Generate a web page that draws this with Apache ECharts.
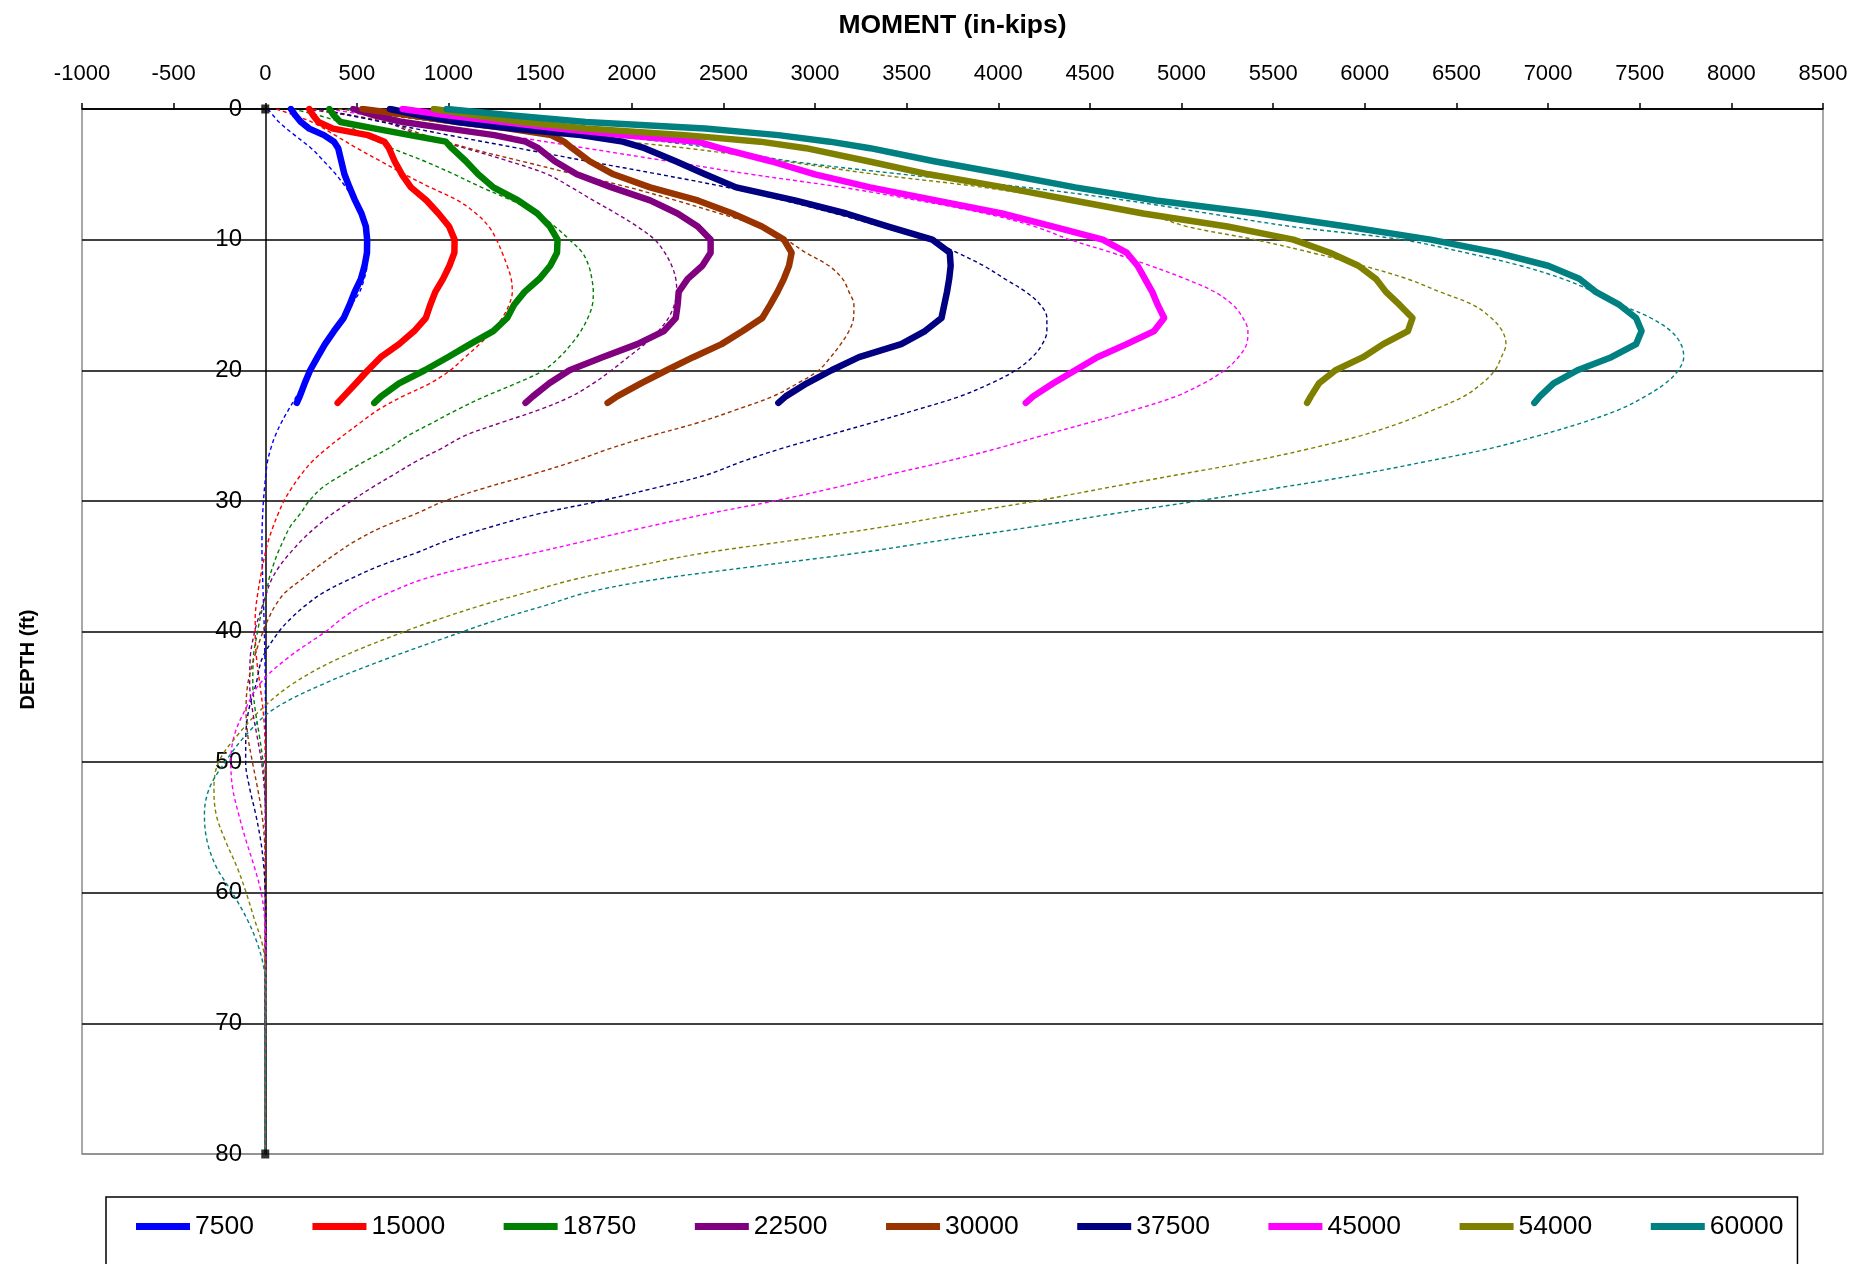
<!DOCTYPE html>
<html>
<head>
<meta charset="utf-8">
<title>Moment vs Depth</title>
<script src="https://cdn.jsdelivr.net/npm/echarts@6/dist/echarts.min.js"></script>
<style>
  html, body { margin: 0; padding: 0; background: #ffffff; }
  #chart { width: 1871px; height: 1264px; }
</style>
</head>
<body>
<div id="chart"></div>
<script>
// Lateral load cases (legend entries)
const loadCases = ['7500', '15000', '18750', '22500', '30000', '37500', '45000', '54000', '60000'];

// Depths (ft) of the measured moment profiles
const depthMeasured = [0, 0.5, 1, 1.5, 2, 2.5, 3, 4, 5, 6, 7, 8, 9, 10, 11, 12, 13, 14, 15, 16, 17, 18, 19, 20, 21, 22, 22.5];

// Measured bending moment (in-kips), one array per load case
const measured7500  = [140, 165, 195, 240, 320, 375, 398, 415, 432, 460, 490, 525, 549, 556, 555, 542, 522, 488, 460, 428, 375, 326, 285, 245, 215, 188, 172];
const measured15000 = [240, 262, 290, 370, 560, 650, 675, 706, 745, 795, 880, 945, 1003, 1033, 1032, 1005, 970, 928, 900, 876, 813, 730, 630, 560, 495, 428, 395];
const measured18750 = [350, 375, 410, 600, 790, 985, 1018, 1095, 1162, 1245, 1380, 1485, 1553, 1595, 1592, 1555, 1496, 1415, 1357, 1320, 1244, 1118, 996, 870, 730, 632, 595];
const measured22500 = [480, 600, 750, 1000, 1250, 1420, 1490, 1580, 1700, 1890, 2100, 2250, 2360, 2430, 2430, 2385, 2305, 2256, 2250, 2240, 2175, 2030, 1840, 1660, 1550, 1460, 1420];
const measured30000 = [530, 800, 1050, 1330, 1560, 1630, 1675, 1770, 1900, 2100, 2360, 2550, 2710, 2830, 2872, 2858, 2830, 2795, 2755, 2712, 2605, 2490, 2335, 2190, 2050, 1920, 1868];
const measured37500 = [680, 850, 1050, 1350, 1720, 1950, 2070, 2240, 2400, 2570, 2890, 3170, 3400, 3640, 3735, 3740, 3732, 3720, 3705, 3690, 3600, 3470, 3240, 3090, 2955, 2840, 2800];
const measured45000 = [750, 1000, 1300, 1600, 1950, 2360, 2480, 2760, 3000, 3300, 3660, 4020, 4300, 4570, 4700, 4760, 4800, 4840, 4870, 4905, 4850, 4700, 4540, 4420, 4300, 4190, 4150];
const measured54000 = [920, 1150, 1400, 1750, 2290, 2700, 2950, 3290, 3620, 4030, 4410, 4790, 5250, 5610, 5810, 5965, 6060, 6115, 6190, 6260, 6235, 6100, 5990, 5840, 5750, 5705, 5685];
const measured60000 = [990, 1350, 1750, 2400, 2800, 3080, 3300, 3650, 4040, 4420, 4860, 5420, 5900, 6360, 6720, 7000, 7170, 7260, 7390, 7480, 7510, 7480, 7345, 7160, 7030, 6955, 6925];

// Depths (ft) of the computed moment profiles
const depthComputed = [0, 1, 2, 3, 4, 5, 6, 7, 8, 9, 10, 11, 12, 13, 14, 15, 16, 17, 18, 19, 20,
  21, 22, 23, 24, 25, 26, 27, 28, 29, 30, 31, 32, 33, 34, 35, 36, 37, 38, 39, 40,
  42, 44, 46, 48, 50, 52, 54, 56, 58, 60, 62, 64, 66, 68, 70, 75, 80];

// Computed bending moment (in-kips), one array per load case
const computed7500  = [15, 75, 160, 250, 320, 385, 440, 487, 520, 543, 553, 556, 555, 540, 515, 470, 430, 385, 338, 295, 252,
  212, 170, 128, 88, 55, 30, 12, 3, -4, -10, -14, -17, -18, -18, -16, -14, -12, -9, -7, -5,
  -2, 0, 1, 1, 0, 0, 0, 0, 0, 0, 0, 0, 0, 0, 0, 0, 0];
const computed15000 = [60, 255, 380, 500, 630, 760, 900, 1050, 1150, 1220, 1262, 1293, 1320, 1342, 1348, 1330, 1293, 1240, 1170, 1090, 1010,
  900, 750, 620, 520, 425, 335, 255, 195, 145, 102, 70, 42, 18, 0, -15, -28, -40, -50, -55, -55,
  -48, -30, -12, -2, 2, 3, 2, 1, 0, 0, 0, 0, 0, 0, 0, 0, 0];
const computed18750 = [150, 410, 540, 690, 870, 1030, 1180, 1345, 1488, 1580, 1660, 1730, 1765, 1782, 1790, 1785, 1760, 1722, 1670, 1605, 1520,
  1370, 1200, 1050, 915, 780, 670, 540, 420, 310, 240, 190, 135, 100, 68, 42, 20, 7, -12, -28, -42,
  -65, -68, -55, -32, -12, -2, 2, 3, 2, 1, 0, 0, 0, 0, 0, 0, 0];
const computed22500 = [220, 650, 840, 1090, 1330, 1540, 1670, 1790, 1915, 2030, 2125, 2180, 2218, 2240, 2245, 2232, 2200, 2145, 2070, 1980, 1890,
  1790, 1670, 1500, 1290, 1090, 960, 820, 700, 580, 470, 365, 277, 200, 135, 78, 35, 8, -15, -38, -58,
  -82, -85, -70, -45, -20, -5, 2, 3, 2, 1, 0, 0, 0, 0, 0, 0, 0];
const computed30000 = [260, 660, 870, 1110, 1400, 1690, 1985, 2240, 2480, 2700, 2840, 2950, 3075, 3150, 3185, 3212, 3210, 3185, 3140, 3085, 3020,
  2905, 2770, 2575, 2365, 2110, 1880, 1680, 1450, 1200, 980, 820, 640, 500, 390, 290, 200, 110, 55, 18, -12,
  -60, -95, -105, -95, -70, -42, -18, -4, 2, 3, 2, 1, 0, 0, 0, 0, 0];
const computed37500 = [300, 640, 1000, 1380, 1760, 2150, 2520, 2830, 3110, 3360, 3620, 3775, 3920, 4035, 4150, 4230, 4265, 4265, 4240, 4185, 4095,
  3960, 3790, 3560, 3315, 3065, 2815, 2600, 2410, 2130, 1830, 1490, 1230, 1000, 820, 620, 460, 320, 220, 140, 75,
  -15, -50, -90, -106, -107, -85, -52, -25, -8, 0, 3, 3, 2, 1, 0, 0, 0];
const computed45000 = [350, 800, 1300, 1750, 2200, 2650, 3150, 3560, 3930, 4200, 4390, 4620, 4830, 5020, 5180, 5280, 5335, 5362, 5355, 5310, 5235,
  5120, 4970, 4750, 4500, 4240, 3990, 3710, 3400, 3105, 2780, 2410, 2080, 1770, 1460, 1130, 860, 680, 530, 420, 330,
  125, -30, -110, -170, -188, -178, -145, -105, -60, -22, -3, 3, 3, 2, 1, 0, 0];
const computed54000 = [400, 950, 1600, 2300, 2830, 3330, 3920, 4380, 4800, 5030, 5400, 5710, 5990, 6230, 6410, 6590, 6690, 6750, 6770, 6745, 6710,
  6640, 6540, 6380, 6200, 5980, 5700, 5370, 4980, 4590, 4210, 3780, 3370, 2890, 2390, 2020, 1690, 1430, 1180, 960, 760,
  410, 150, -25, -155, -255, -280, -268, -218, -155, -104, -60, -15, 2, 4, 2, 0, 0];
const computed60000 = [450, 1100, 1850, 2450, 2870, 3480, 4150, 4700, 5150, 5600, 6200, 6550, 6850, 7080, 7250, 7400, 7560, 7670, 7725, 7740, 7710,
  7640, 7530, 7390, 7190, 6950, 6680, 6330, 5960, 5530, 5090, 4620, 4180, 3700, 3230, 2680, 2140, 1760, 1530, 1290, 1080,
  680, 320, 40, -110, -220, -305, -332, -318, -268, -180, -100, -40, -5, 3, 2, 0, 0];

const measuredSets = [measured7500, measured15000, measured18750, measured22500, measured30000,
  measured37500, measured45000, measured54000, measured60000];
const computedSets = [computed7500, computed15000, computed18750, computed22500, computed30000,
  computed37500, computed45000, computed54000, computed60000];

const palette = ['#0000FF', '#FF0000', '#008000', '#800080', '#993300', '#000080', '#FF00FF', '#808000', '#008080'];

const textFont = '"Liberation Sans", Arial, sans-serif';

const series = [];

// Computed profiles: thin dashed lines, drawn underneath
computedSets.forEach((values, i) => {
  series.push({
    type: 'line',
    name: loadCases[i] + ' computed',
    data: depthComputed.map((d, k) => [values[k], d]),
    symbol: 'none',
    smooth: 0.35,
    silent: true,
    z: 2,
    lineStyle: { color: palette[i], width: 1.4, type: [4, 3] },
    itemStyle: { color: palette[i] }
  });
});

// Measured profiles: thick solid lines
measuredSets.forEach((values, i) => {
  series.push({
    type: 'line',
    name: loadCases[i],
    data: depthMeasured.map((d, k) => [values[k], d]),
    symbol: 'none',
    z: 3,
    lineStyle: { color: palette[i], width: 6.5, cap: 'round', join: 'round' },
    itemStyle: { color: palette[i] }
  });
});

// End markers of the pile axis
series.push({
  type: 'scatter',
  name: 'pile axis',
  data: [[0, 0], [0, 80]],
  symbol: 'rect',
  symbolSize: [8, 9],
  itemStyle: { color: '#000000' },
  silent: true,
  z: 5
});

const chart = echarts.init(document.getElementById('chart'), null, { renderer: 'canvas' });
chart.setOption({
  animation: false,
  backgroundColor: '#ffffff',
  grid: {
    left: 82, top: 109, width: 1741, height: 1045,
    containLabel: false,
    outerBoundsMode: 'none',
    show: true, borderColor: '#8c8c8c', borderWidth: 1.5, backgroundColor: 'transparent'
  },
  xAxis: {
    type: 'value',
    position: 'top',
    min: -1000, max: 8500, interval: 500,
    name: 'MOMENT (in-kips)',
    nameLocation: 'middle',
    nameGap: 70,
    nameTextStyle: { fontFamily: textFont, fontWeight: 'bold', fontSize: 26.5, color: '#000000' },
    axisLine: { onZero: false, lineStyle: { color: '#000000', width: 1.5 } },
    axisTick: { show: true, inside: false, length: 6, lineStyle: { color: '#000000', width: 1.5 } },
    axisLabel: {
      fontFamily: textFont, fontSize: 22, color: '#000000', margin: 24,
      formatter: (v) => String(v)
    },
    splitLine: { show: false }
  },
  yAxis: {
    type: 'value',
    inverse: true,
    min: 0, max: 80, interval: 10,
    name: 'DEPTH (ft)',
    nameLocation: 'middle',
    nameRotate: 90,
    nameGap: 44,
    nameTextStyle: {
      fontFamily: textFont, fontWeight: 'bold', fontSize: 20, color: '#000000',
      padding: [0, 56, 0, 0]
    },
    axisLine: { onZero: true, lineStyle: { color: '#000000', width: 1.5 } },
    axisTick: { show: false },
    // labels sit just left of the zero-moment line
    axisLabel: { fontFamily: textFont, fontSize: 24, color: '#000000', margin: -160 },
    splitLine: {
      show: true,
      lineStyle: {
        color: ['#000000', '#000000', '#000000', '#000000', '#000000', '#000000', '#000000', '#000000', '#8c8c8c'],
        width: 1.5
      }
    }
  },
  legend: {
    data: loadCases,
    left: 106,
    top: 1197,
    orient: 'horizontal',
    icon: 'rect',
    itemWidth: 54,
    itemHeight: 7,
    itemGap: 58.5,
    padding: [16, 14, 70, 30],
    borderColor: '#000000',
    borderWidth: 1.5,
    selectedMode: false,
    textStyle: { fontFamily: textFont, fontSize: 26.5, color: '#000000' }
  },
  series: series
});
</script>
</body>
</html>
